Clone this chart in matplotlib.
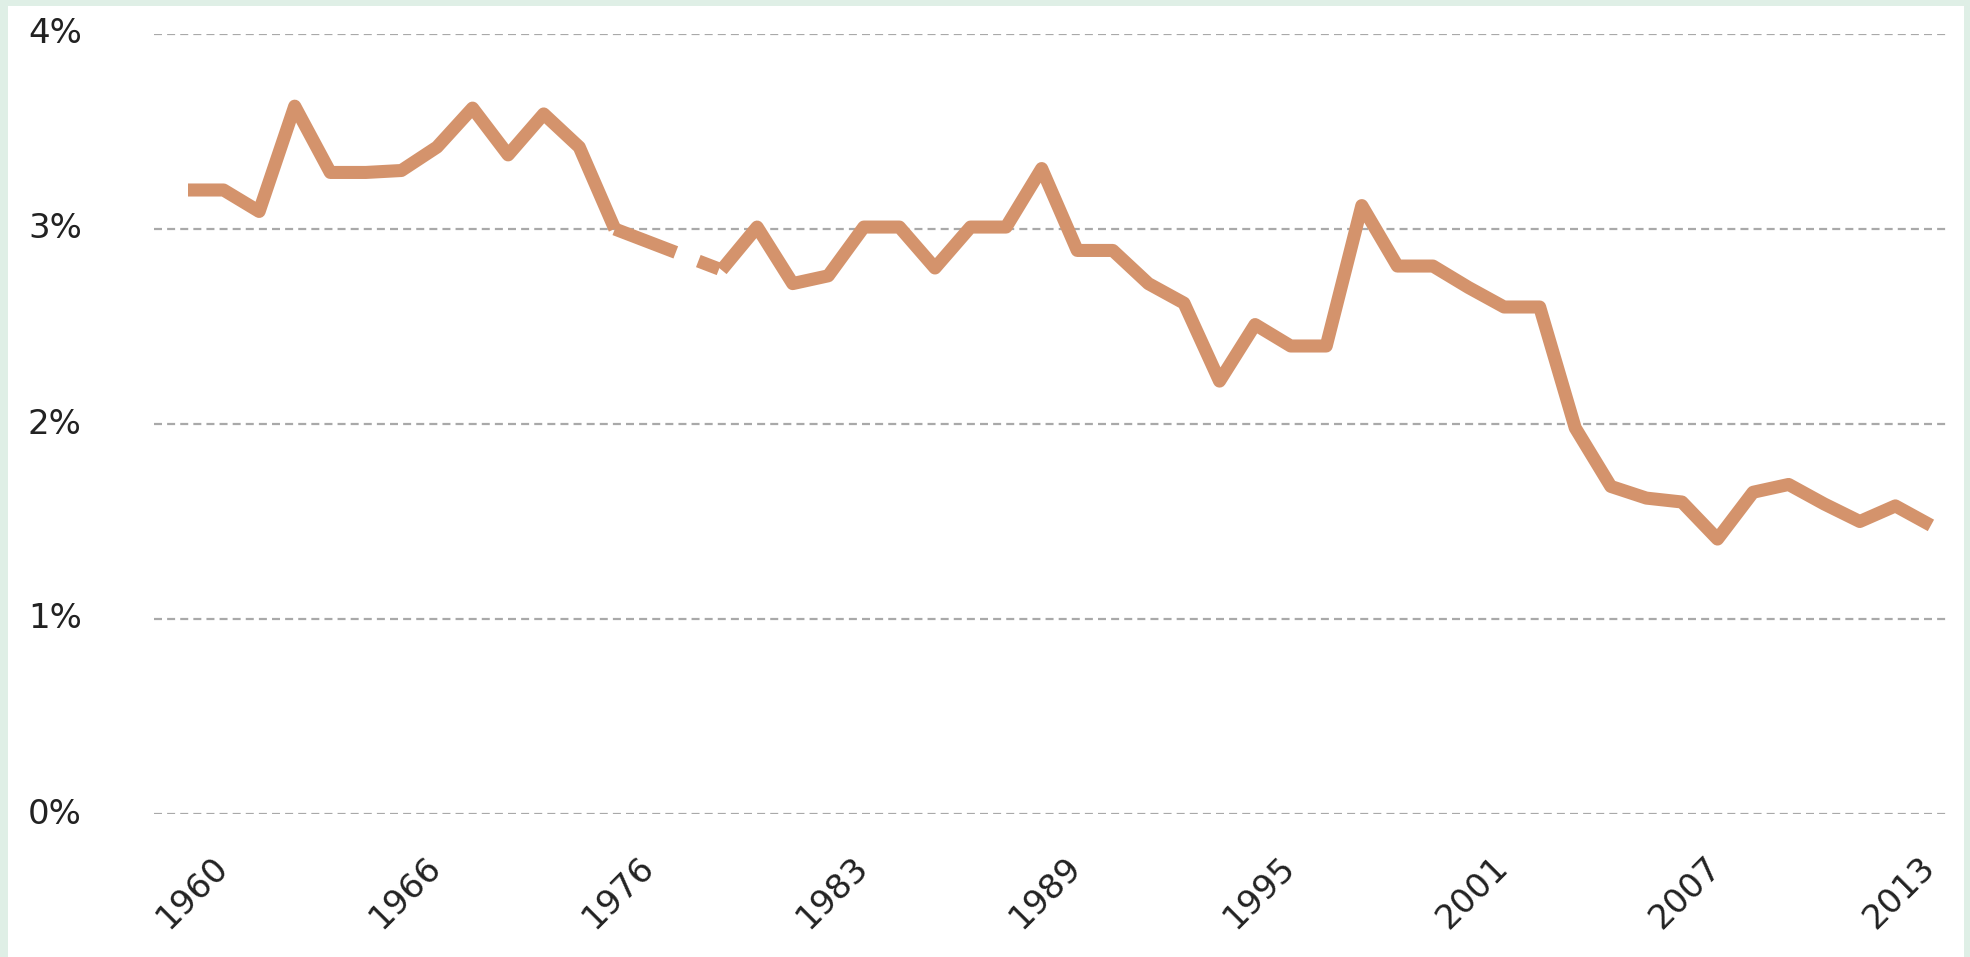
"""Yearly rate, 1960-2014, drawn as a single line on a percent axis."""
import matplotlib
matplotlib.use("Agg")
import matplotlib.pyplot as plt
from matplotlib.patches import Rectangle
from matplotlib import transforms
import numpy as np

# one value per row of the table; None marks rows with no figure
rate = [3.20, 3.20, 3.09, 3.63, 3.29, 3.29, 3.30, 3.42, 3.62, 3.38,
        3.59, 3.42, 3.00, None, None, 2.79, 3.01, 2.72, 2.76, 3.01,
        3.01, 2.80, 3.01, 3.01, 3.31, 2.89, 2.89, 2.72, 2.62, 2.22,
        2.51, 2.40, 2.40, 3.12, 2.81, 2.81, 2.70, 2.60, 2.60, 1.98,
        1.68, 1.62, 1.60, 1.41, 1.65, 1.69, 1.59, 1.50, 1.58, 1.48]
tick_years = ['1960', '1966', '1976', '1983', '1989',
              '1995', '2001', '2007', '2013']
tick_every = 6
y_ticks = [0, 1, 2, 3, 4]

line_color = '#d4936c'
grid_color = '#a9a9a9'
frame_color = '#dfefe6'
text_color = '#222222'

W, H, DPI = 1970, 957, 100
fig = plt.figure(figsize=(W / DPI, H / DPI), dpi=DPI)
fig.patch.set_facecolor('white')

# thin tinted frame on the left, top and right edges
for x0, y0, w, h in [(0, 0, 8, H), (0, H - 6, W, 6), (W - 6, 0, 6, H)]:
    fig.add_artist(Rectangle((x0 / W, y0 / H), w / W, h / H,
                             transform=fig.transFigure, facecolor=frame_color,
                             edgecolor='none', zorder=0))

ax = fig.add_axes([154 / W, 143 / H, (1950 - 154) / W, (923 - 143) / H])
ax.set_facecolor('none')

vals = np.array([np.nan if v is None else v for v in rate])
idx = np.arange(len(vals))
step_px = 35.57
x_left = -(188 - 154) / step_px
ax.set_xlim(x_left, x_left + (1950 - 154) / step_px)
ax.set_ylim(0, 4)

# solid runs where data exists, dashed bridge across the missing rows
ax.plot(idx, vals, color=line_color, lw=9.4, solid_capstyle='butt',
        solid_joinstyle='round', zorder=3)
missing = np.where(np.isnan(vals))[0]
if len(missing):
    a, b = missing[0] - 1, missing[-1] + 1
    ax.plot([idx[a], idx[b]], [vals[a], vals[b]], color=line_color, lw=9.4,
            linestyle=(0, (5.0, 1.85, 1.7, 3.0)), dash_capstyle='butt',
            zorder=3)

# dashed horizontal guides
ax.set_yticks(y_ticks)
ax.set_xticks([])
ax.yaxis.grid(True, color=grid_color, lw=1.6, linestyle=(0, (3.6, 2.3)))
ax.set_axisbelow(True)
ax.tick_params(axis='y', length=0, labelleft=False)
for s in ax.spines.values():
    s.set_visible(False)

ylab_tr = transforms.blended_transform_factory(fig.transFigure, ax.transData)
for t in y_ticks:
    fig.text(28 / W, t, '{}%'.format(t), transform=ylab_tr, ha='left',
             va='center', fontsize=24.5, color=text_color,
             family='DejaVu Sans')

xlab_tr = transforms.offset_copy(ax.transData, fig=fig, x=41, y=-55,
                                 units='dots')
for k, label in enumerate(tick_years):
    ax.text(k * tick_every, 0, label, transform=xlab_tr, rotation=45,
            rotation_mode='anchor', ha='right', va='baseline',
            fontsize=24.5, color=text_color, family='DejaVu Sans',
            clip_on=False)

fig.savefig('out.png', dpi=DPI, facecolor=fig.get_facecolor())
